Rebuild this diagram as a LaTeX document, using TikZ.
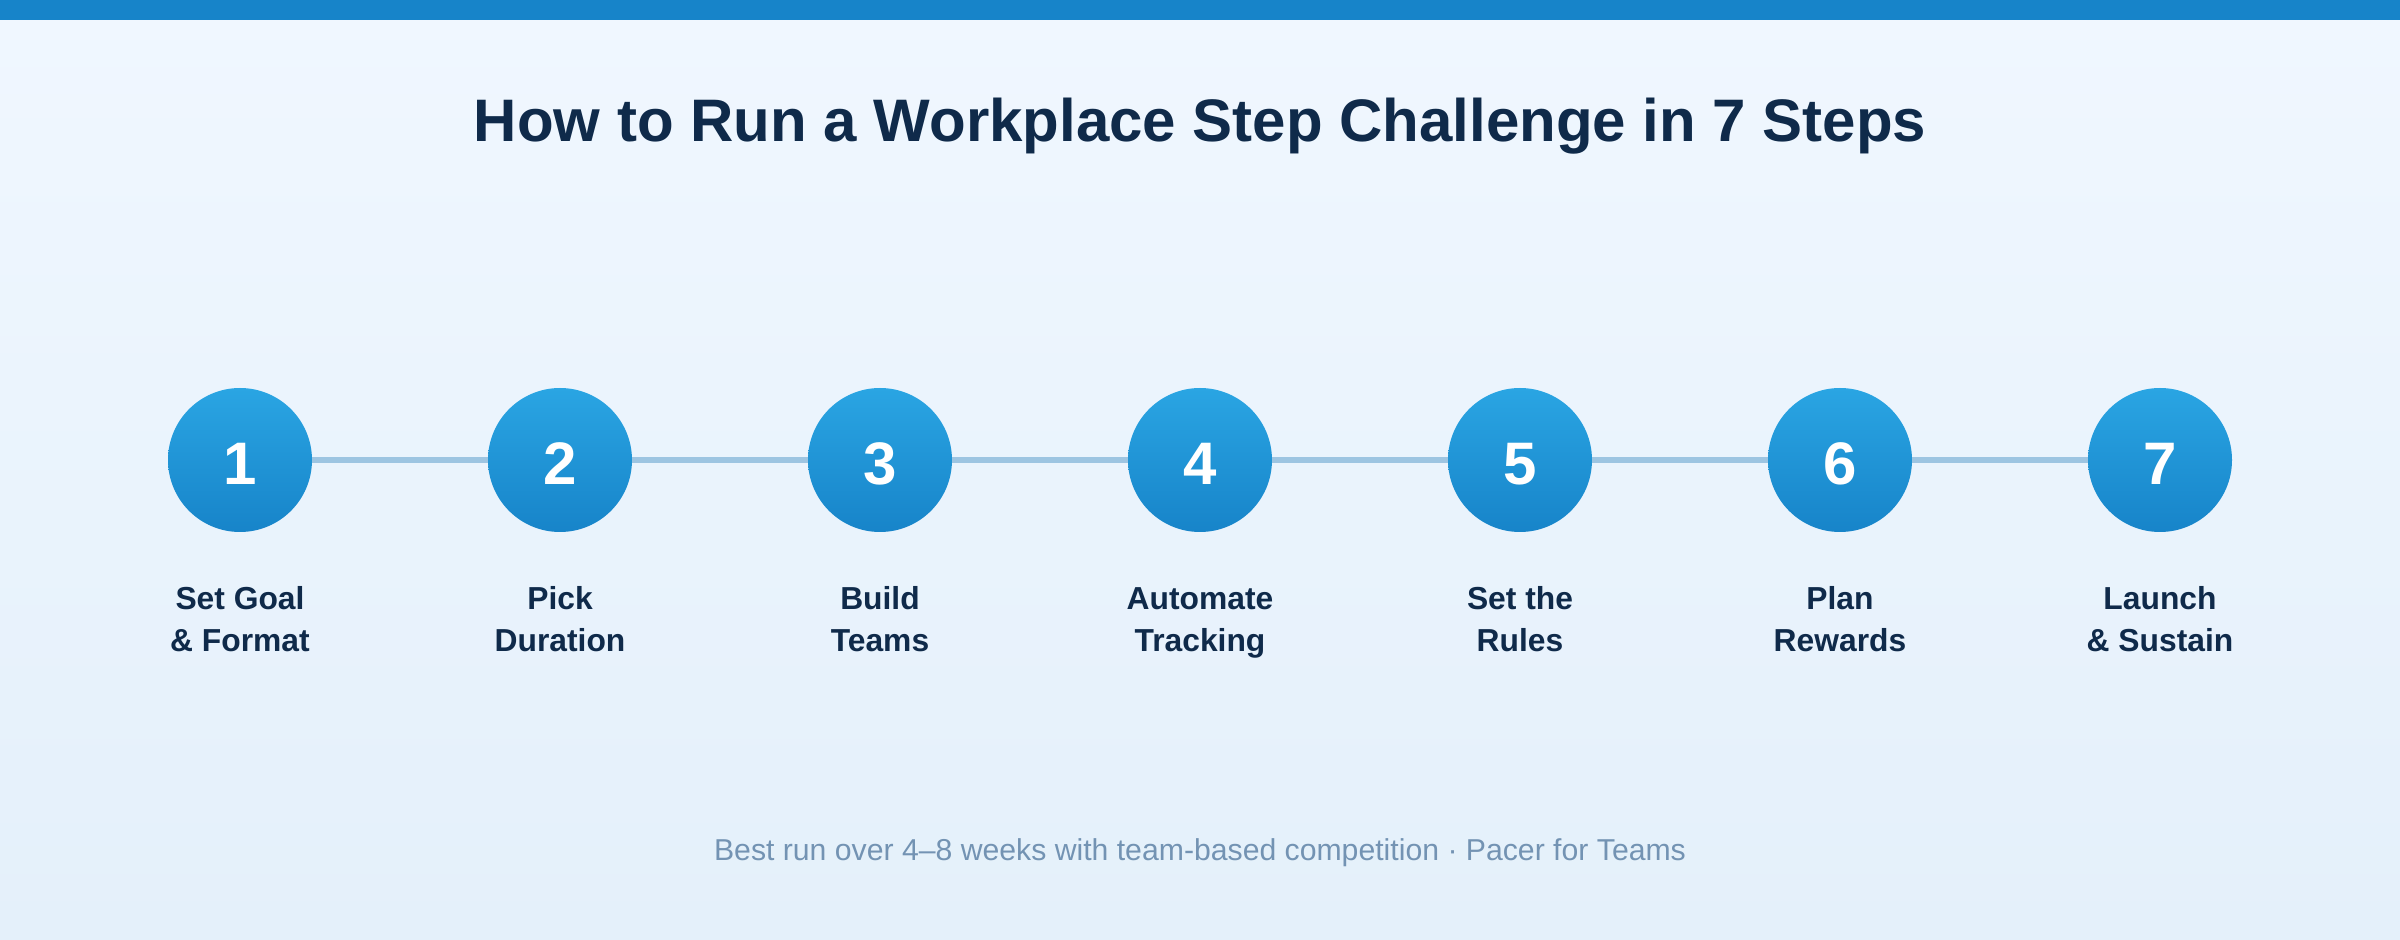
\documentclass[tikz,border=0pt]{standalone}
\usepackage{fontspec}
\setmainfont{Liberation Sans}
\definecolor{bgtop}{HTML}{F0F7FF}
\definecolor{bgbot}{HTML}{E4F0FA}
\definecolor{barblue}{HTML}{1784C9}
\definecolor{titlecol}{HTML}{0F2A4A}
\definecolor{circtop}{HTML}{2AA5E3}
\definecolor{circbot}{HTML}{1784C9}
\definecolor{conncol}{HTML}{9DC5E2}
\definecolor{footcol}{HTML}{7393B3}
\tikzset{
  titletext/.style={anchor=base,font=\fontsize{30}{36}\selectfont\bfseries,text=titlecol,inner sep=0},
  stepcircle/.style={circle,minimum size=72pt,inner sep=0,top color=circtop,bottom color=circbot,draw=none},
  numtext/.style={anchor=base,font=\fontsize{30}{36}\selectfont\bfseries,text=white,inner sep=0},
  labeltext/.style={anchor=base,font=\fontsize{15.9}{19}\selectfont\bfseries,text=titlecol,inner sep=0},
  foottext/.style={anchor=base,font=\fontsize{15.1}{18}\selectfont,text=footcol,inner sep=0},
  conn/.style={draw=conncol,line width=3pt}
}
\begin{document}
\begin{tikzpicture}[x=0.5pt,y=-0.5pt]
\useasboundingbox (0,0) rectangle (2400,940);
\shade[top color=bgtop,bottom color=bgbot] (0,0) rectangle (2400,940);
\fill[barblue] (0,0) rectangle (2400,20);
\node[titletext] (title) at (1200,142) {How to Run a Workplace Step Challenge in 7 Steps};
\foreach \i/\x/\la/\lb in {1/240/Set Goal/\& Format,2/560/Pick/Duration,3/880/Build/Teams,4/1200/Automate/Tracking,5/1520/Set the/Rules,6/1840/Plan/Rewards,7/2160/Launch/\& Sustain}{
  \node[stepcircle] (s\i) at (\x,460) {};
  \node[numtext] (n\i) at (\x,485) {\i};
  \node[labeltext] (la\i) at (\x,610) {\la};
  \node[labeltext] (lb\i) at (\x,652) {\lb};
}
\foreach \a/\b in {1/2,2/3,3/4,4/5,5/6,6/7}{
  \draw[conn] (s\a) -- (s\b);
}
\node[foottext] (foot) at (1200,860) {Best run over 4–8 weeks with team-based competition · Pacer for Teams};
\end{tikzpicture}
\end{document}
